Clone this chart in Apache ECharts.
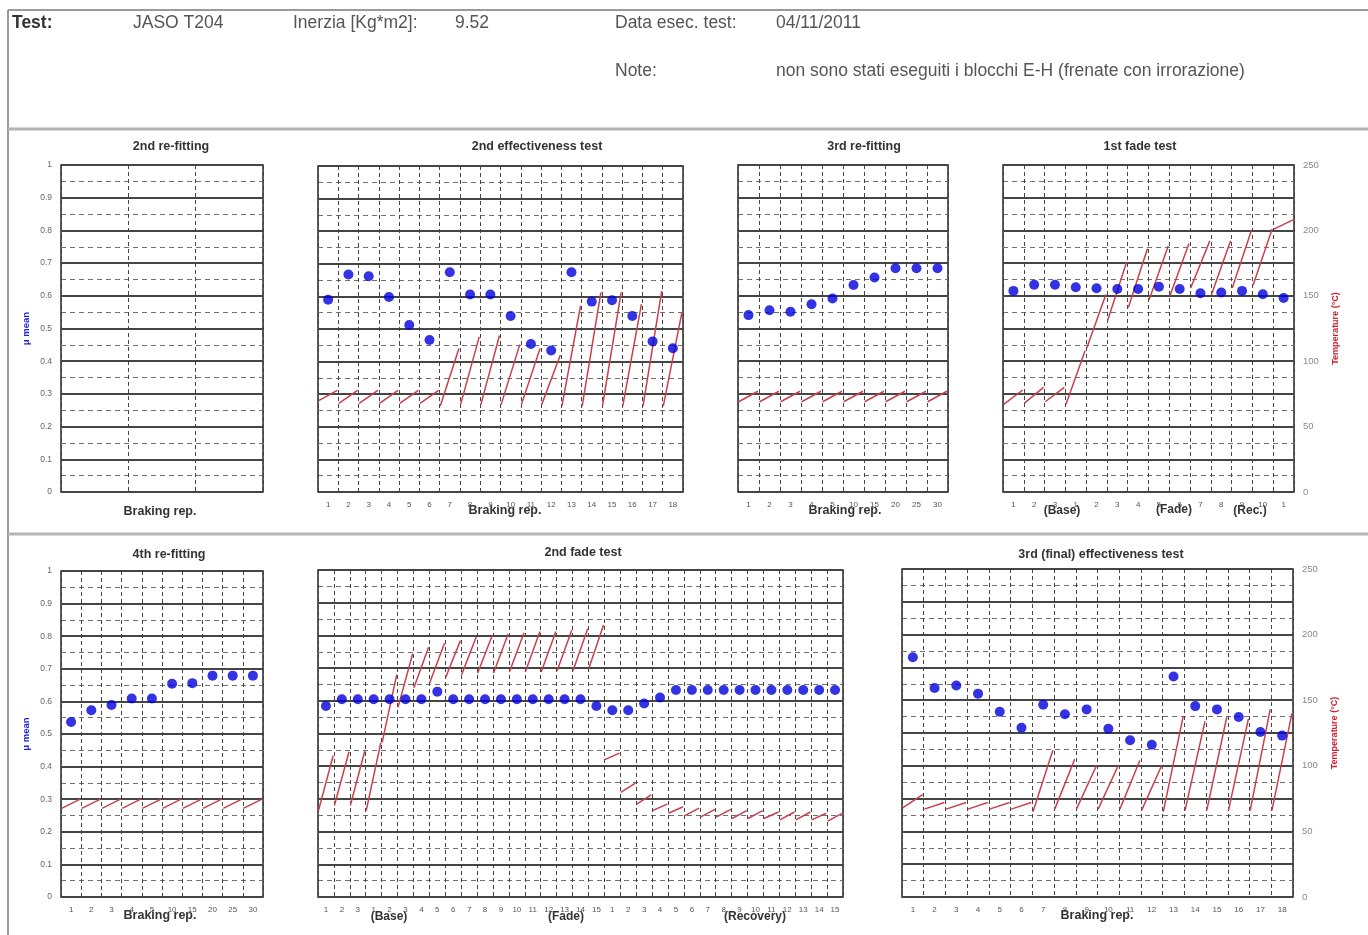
<!DOCTYPE html>
<html><head><meta charset="utf-8">
<script src="https://cdn.jsdelivr.net/npm/echarts@6/dist/echarts.min.js"></script>
<style>html,body{margin:0;padding:0;background:#fff}#c{width:1368px;height:935px}</style>
</head><body><div id="c"></div>
<script>
// ---------------- DATA ----------------
const muTicks = [0, 0.1, 0.2, 0.3, 0.4, 0.5, 0.6, 0.7, 0.8, 0.9, 1];
const tempTicks = [0, 50, 100, 150, 200, 250];

// 2nd re-fitting (empty)
const refit2Labels = [];
const refit2Mu = [];

// 2nd effectiveness test
const eff2Labels = ['1','2','3','4','5','6','7','8','9','10','11','12','13','14','15','16','17','18'];
const eff2Mu = [0.590,0.667,0.662,0.598,0.512,0.466,0.674,0.606,0.606,0.540,0.454,0.434,0.674,0.584,0.588,0.540,0.462,0.441];
const eff2TStart = [70,68,68,68,68,68,66,67,67,67,67,67,66,66,66,66,66,66];
const eff2TEnd = [78,78,78,78,78,78,110,119,120,113,110,105,143,153,153,144,154,138];

// 3rd re-fitting
const refit3Labels = ['1','2','3','4','5','10','15','20','25','30'];
const refit3Mu = [0.541,0.556,0.551,0.574,0.592,0.633,0.656,0.684,0.684,0.684];
const refit3TStart = [69,69,69,69,69,69,69,69,69,69];
const refit3TEnd = [77,77,77,77,77,77,77,77,77,77];

// 1st fade test
const fade1Labels = ['1','2','3','1','2','3','4','5','6','7','8','9','10','1'];
const fade1Mu = [0.615,0.634,0.634,0.626,0.623,0.621,0.621,0.628,0.621,0.608,0.610,0.615,0.605,0.593];
const fade1TStart = [67,68,69,67,110,131,141,147,150,156,151,156,158,201];
const fade1TEnd = [78,80,80,108,151,176,186,188,190,192,192,200,201,208];

// 4th re-fitting
const refit4Labels = ['1','2','3','4','5','10','15','20','25','30'];
const refit4Mu = [0.537,0.573,0.589,0.609,0.609,0.654,0.656,0.679,0.679,0.679];
const refit4TStart = [68,68,68,68,68,68,68,68,68,68];
const refit4TEnd = [75,75,75,75,75,75,75,75,75,75];

// 2nd fade test
const fade2Labels = ['1','2','3','1','2','3','4','5','6','7','8','9','10','11','12','13','14','15','1','2','3','4','5','6','7','8','9','10','11','12','13','14','15'];
const fade2Mu = [0.584,0.605,0.605,0.605,0.605,0.605,0.605,0.628,0.605,0.605,0.605,0.605,0.605,0.605,0.605,0.605,0.605,0.584,0.571,0.571,0.592,0.610,0.633,0.633,0.633,0.633,0.633,0.633,0.633,0.633,0.633,0.633,0.633];
const fade2TStart = [66,70,70, 66,118,145,160,164,168,170,171,171,172,172,172,173,173,175, 105,80,71,66,64,62,61,61,60,60,60,59,59,59,58];
const fade2TEnd = [108,111,112, 118,170,186,191,194,196,199,200,201,202,203,203,204,205,208, 110,87,78,71,69,68,67,67,66,66,65,65,65,64,64];

// 3rd (final) effectiveness test
const eff3Labels = ['1','2','3','4','5','6','7','8','9','10','11','12','13','14','15','16','17','18'];
const eff3Mu = [0.731,0.637,0.645,0.620,0.565,0.516,0.586,0.557,0.572,0.513,0.478,0.464,0.672,0.582,0.572,0.549,0.503,0.492];
const eff3TStart = [68,67,67,67,67,67,65,67,67,67,67,66,65,66,66,66,66,66];
const eff3TEnd = [78,72,72,72,72,72,112,105,100,100,104,100,138,134,137,136,143,140];

// ---------------- LAYOUT ----------------
const FONT = '"Liberation Sans", Arial, sans-serif';
const panels = [
  {title:'2nd re-fitting', n:3, labels:refit2Labels, mu:refit2Mu, tS:null, tE:null, box:[61,165,202,327], left:true, right:false, tPos:[171,147], xName:[160,512]},
  {title:'2nd effectiveness test', n:18, labels:eff2Labels, mu:eff2Mu, tS:eff2TStart, tE:eff2TEnd, box:[318,166,365,326], left:false, right:false, tPos:[537,147], xName:[505,511]},
  {title:'3rd re-fitting', n:10, labels:refit3Labels, mu:refit3Mu, tS:refit3TStart, tE:refit3TEnd, box:[738,165,210,327], left:false, right:false, tPos:[864,147], xName:[845,511]},
  {title:'1st fade test', n:14, labels:fade1Labels, mu:fade1Mu, tS:fade1TStart, tE:fade1TEnd, box:[1003,165,291,327], left:false, right:true, tPos:[1140,147], xName:null},
  {title:'4th re-fitting', n:10, labels:refit4Labels, mu:refit4Mu, tS:refit4TStart, tE:refit4TEnd, box:[61,571,202,326], left:true, right:false, tPos:[169,555], xName:[160,916]},
  {title:'2nd fade test', n:33, labels:fade2Labels, mu:fade2Mu, tS:fade2TStart, tE:fade2TEnd, box:[318,570,525,327], left:false, right:false, tPos:[583,553], xName:null},
  {title:'3rd (final) effectiveness test', n:18, labels:eff3Labels, mu:eff3Mu, tS:eff3TStart, tE:eff3TEnd, box:[902,569,391,328], left:false, right:true, tPos:[1101,555], xName:[1097,916]}
];

const grid = [], xAxis = [], yAxis = [], series = [];
const graphic = [];

function tempLine(tS, tE) {
  const d = [];
  for (let i = 0; i < tS.length; i++) {
    d.push([i + 0.03, tS[i]]);
    d.push([i + 0.95, tE[i]]);
    d.push([i + 0.97, '-']);
  }
  return d;
}

panels.forEach((p, k) => {
  grid.push({left:p.box[0], top:p.box[1], width:p.box[2], height:p.box[3], show:true, borderColor:'#333', borderWidth:1.6, containLabel:false});
  xAxis.push({type:'value', gridIndex:k, min:0, max:p.n, interval:1,
    axisLine:{show:false}, axisTick:{show:false}, axisLabel:{show:false},
    splitLine:{show:true, lineStyle:{color:'#444', width:1, type:[4,3]}}});
  xAxis.push({type:'category', gridIndex:k, data:p.labels, boundaryGap:true, position:'bottom',
    show: p.labels.length > 0,
    axisLine:{show:false}, axisTick:{show:false}, splitLine:{show:false},
    axisLabel:{show:true, interval:0, fontSize:8, color:'#555', margin:9, fontFamily:FONT}});
  yAxis.push({type:'value', gridIndex:k, min:0, max:1, interval:0.1, position:'left',
    axisLine:{show:false}, axisTick:{show:false},
    axisLabel:{show:p.left, fontSize:8.5, color:'#666', margin:9, fontFamily:FONT},
    splitLine:{show:true, lineStyle:{color:'#454545', width:1.8}},
    minorTick:{show:false, splitNumber:2},
    minorSplitLine:{show:true, lineStyle:{color:'#707070', width:1, type:[5,4]}},
    name: p.left ? 'μ mean' : '', nameLocation:'middle', nameRotate:90, nameGap:30,
    nameTextStyle:{color:'#2020d0', fontSize:9.5, fontWeight:'bold', fontFamily:FONT}});
  yAxis.push({type:'value', gridIndex:k, min:0, max:250, interval:50, position:'right',
    axisLine:{show:false}, axisTick:{show:false}, splitLine:{show:false},
    axisLabel:{show:p.right, fontSize:9.5, color:'#888', margin:9, fontFamily:FONT},
    name: p.right ? 'Temperature (°C)' : '', nameLocation:'middle', nameRotate:90, nameGap:37,
    nameTextStyle:{color:'#d02030', fontSize:9, fontWeight:'bold', fontFamily:FONT}});
  if (p.tS) {
    series.push({type:'line', xAxisIndex:2*k, yAxisIndex:2*k+1, data:tempLine(p.tS, p.tE),
      showSymbol:false, connectNulls:false, smooth:false, silent:true,
      lineStyle:{color:'#c8404c', width:1.5}, z:3});
  }
  if (p.mu.length) {
    series.push({type:'scatter', xAxisIndex:2*k+1, yAxisIndex:2*k, data:p.mu, symbolSize:10,
      itemStyle:{color:'#0000dc'}, silent:true, z:4});
  }
  graphic.push({type:'text', x:p.tPos[0], y:p.tPos[1], style:{text:p.title, align:'center', verticalAlign:'middle', textAlign:'center', textVerticalAlign:'middle', font:'bold 12.5px ' + FONT, fill:'#333'}});
  if (p.xName) {
    graphic.push({type:'text', x:p.xName[0], y:p.xName[1], style:{text:'Braking rep.', align:'center', verticalAlign:'middle', textAlign:'center', textVerticalAlign:'middle', font:'bold 12.5px ' + FONT, fill:'#333'}});
  }
});

// group labels
[['(Base)',1062,511],['(Fade)',1174,510],['(Rec.)',1250,511],['(Base)',389,917],['(Fade)',566,917],['(Recovery)',755,917]].forEach(g => {
  graphic.push({type:'text', x:g[1], y:g[2], style:{text:g[0], align:'center', verticalAlign:'middle', textAlign:'center', textVerticalAlign:'middle', font:'bold 12px ' + FONT, fill:'#333'}});
});

// frame lines
const ln = (x1,y1,x2,y2,w,c) => ({type:'line', shape:{x1,y1,x2,y2}, style:{stroke:c, lineWidth:w}, silent:true});
graphic.push(ln(8,10,1368,10,2,'#9a9a9a'));
graphic.push(ln(8,10,8,935,2,'#9a9a9a'));
graphic.push(ln(8,129,1368,129,3,'#b4b4b4'));
graphic.push(ln(8,534,1368,534,3,'#b4b4b4'));

// header text
const hdr = [['Test:',12,23,true],['JASO T204',133,23,false],['Inerzia [Kg*m2]:',293,23,false],['9.52',455,23,false],
  ['Data esec. test:',615,23,false],['04/11/2011',776,23,false],['Note:',615,71,false],
  ['non sono stati eseguiti i blocchi E-H (frenate con irrorazione)',776,71,false]];
hdr.forEach(h => {
  graphic.push({type:'text', x:h[1], y:h[2], style:{text:h[0], align:'left', verticalAlign:'middle', textAlign:'left', textVerticalAlign:'middle', font:(h[3]?'bold ':'') + '17.5px ' + FONT, fill:h[3]?'#333':'#555'}});
});

const chart = echarts.init(document.getElementById('c'), null, {renderer:'canvas'});
chart.setOption({
  backgroundColor:'#ffffff',
  animation:false,
  grid, xAxis, yAxis, series, graphic
});
</script></body></html>
